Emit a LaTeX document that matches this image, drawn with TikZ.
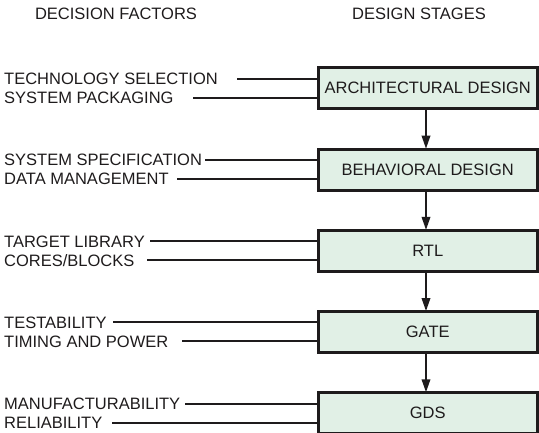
\documentclass[tikz,border=0pt]{standalone}
\usepackage{fontspec}
\setmainfont{Liberation Sans}
\usetikzlibrary{arrows.meta}
\definecolor{ink}{RGB}{30,27,28}
\definecolor{boxfill}{RGB}{225,240,230}
\begin{document}
\begin{tikzpicture}[x=1pt,y=-1pt,
  every node/.style={text=ink,font=\fontsize{16.5}{19}\selectfont},
  stagebox/.style={draw=ink,fill=boxfill,line width=3pt,minimum width=219.5pt,minimum height=41pt,inner sep=0pt},
  factor/.style={anchor=west,inner sep=0pt,text height=11.8pt,text depth=0pt},
  header/.style={inner sep=0pt,text height=11.8pt,text depth=0pt},
  feed/.style={draw=ink,line width=1.9pt},
  flow/.style={draw=ink,line width=1.9pt,-{Triangle[length=13pt,width=8.5pt]}}
]
\useasboundingbox (0,0) rectangle (539,432);
\node[header] (hf) at (116,13.7) {DECISION FACTORS};
\node[header] (hs) at (419,13.7) {DESIGN STAGES};
% boxes
\node[stagebox] (b1) at (427.75,88.3) {ARCHITECTURAL DESIGN};
\node[stagebox] (b2) at (427.75,169.5) {BEHAVIORAL DESIGN};
\node[stagebox] (b3) at (427.75,250.7) {RTL};
\node[stagebox] (b4) at (427.75,331.9) {GATE};
\node[stagebox] (b5) at (427.75,413.1) {GDS};
% factors
\node[factor] (f1a) at (4,78.8) {TECHNOLOGY SELECTION};
\node[factor] (f1b) at (4,97.8) {SYSTEM PACKAGING};
\coordinate (s1a) at (237,78.8);
\coordinate (s1b) at (193,97.8);
\node[factor] (f2a) at (4,160.0) {SYSTEM SPECIFICATION};
\node[factor] (f2b) at (4,179.0) {DATA MANAGEMENT};
\coordinate (s2a) at (205,160.0);
\coordinate (s2b) at (177,179.0);
\node[factor] (f3a) at (4,241.2) {TARGET LIBRARY};
\node[factor] (f3b) at (4,260.2) {CORES/BLOCKS};
\coordinate (s3a) at (150,241.2);
\coordinate (s3b) at (147,260.2);
\node[factor] (f4a) at (4,322.4) {TESTABILITY};
\node[factor] (f4b) at (4,341.4) {TIMING AND POWER};
\coordinate (s4a) at (113,322.4);
\coordinate (s4b) at (182,341.4);
\node[factor] (f5a) at (4,403.6) {MANUFACTURABILITY};
\node[factor] (f5b) at (4,422.6) {RELIABILITY};
\coordinate (s5a) at (185,403.6);
\coordinate (s5b) at (112,422.6);
\foreach \r in {1,...,5}{
  \draw[feed] (s\r a) -- (s\r a -| b\r.west);
  \draw[feed] (s\r b) -- (s\r b -| b\r.west);
}
\foreach \a/\b in {1/2,2/3,3/4,4/5}{
  \draw[flow] ([xshift=-1.75pt]b\a.south) -- ([xshift=-1.75pt,yshift=-1.2pt]b\b.north);
}
\end{tikzpicture}
\end{document}
